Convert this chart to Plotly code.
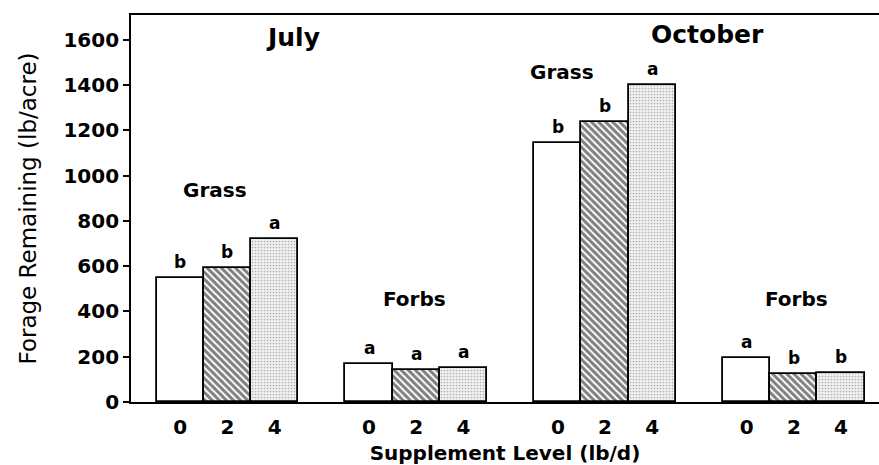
import plotly.graph_objects as go

# ---- data ----
groups = ["July Grass", "July Forbs", "October Grass", "October Forbs"]
levels = ["0", "2", "4"]
level0_values = [550, 170, 1145, 193]
level2_values = [590, 142, 1237, 123]
level4_values = [720, 150, 1402, 127]
level0_letters = ["b", "a", "b", "a"]
level2_letters = ["b", "a", "b", "b"]
level4_letters = ["a", "a", "a", "b"]
y_ticks = [0, 200, 400, 600, 800, 1000, 1200, 1400, 1600]

series_values = [level0_values, level2_values, level4_values]
series_letters = [level0_letters, level2_letters, level4_letters]

FONT = "DejaVu Sans"
bar_w = 0.25
offsets = [-0.25, 0.0, 0.25]
patterns = [
    dict(shape="", bgcolor="white"),
    dict(shape="\\", fgcolor="black", bgcolor="white", size=5, solidity=0.6),
    dict(shape=".", fgcolor="#6e6e6e", bgcolor="#f0f0f0", size=3, solidity=0.25),
]

fig = go.Figure()
gidx = list(range(len(groups)))
for k, (vals, lets) in enumerate(zip(series_values, series_letters)):
    xs = [g + offsets[k] for g in gidx]
    fig.add_trace(go.Bar(
        x=xs, y=vals, width=bar_w, name=levels[k],
        marker=dict(color="white", line=dict(color="black", width=1.8),
                    pattern=patterns[k]),
        showlegend=False, hoverinfo="skip",
    ))
    for x, v, t in zip(xs, vals, lets):
        fig.add_annotation(x=x, y=v, text=t, showarrow=False, yanchor="bottom",
                           yshift=4, font=dict(family=FONT, size=17, color="black", weight="bold"))

tickvals = [g + o for g in gidx for o in offsets]
ticktext = [lv for g in gidx for lv in levels]

labels = [
    ("July", 0.347, 1609, 25),
    ("October", 2.54, 1626, 25),
    ("Grass", -0.066, 936, 20),
    ("Grass", 1.77, 1459, 20),
    ("Forbs", 0.988, 453, 20),
    ("Forbs", 3.016, 456, 20),
]
for txt, x, y, s in labels:
    fig.add_annotation(x=x, y=y, text=txt, showarrow=False,
                       font=dict(family=FONT, size=s, color="black", weight="bold"))

fig.update_layout(
    width=879, height=465,
    margin=dict(l=131, r=0, t=15, b=60),
    paper_bgcolor="white", plot_bgcolor="white",
    bargap=0,
    font=dict(family=FONT, color="black"),
    xaxis=dict(range=[-0.511, 3.451], tickvals=tickvals, ticktext=ticktext,
               showline=True, linecolor="black", linewidth=1.8, mirror=True,
               ticks="", showgrid=False, zeroline=False,
               ticklabelstandoff=6,
               tickfont=dict(family=FONT, size=20, weight="bold"),
               title=dict(text="Supplement Level (lb/d)", standoff=12,
                          font=dict(family=FONT, size=20, weight="bold"))),
    yaxis=dict(range=[0, 1710], tickvals=y_ticks,
               showline=True, linecolor="black", linewidth=1.8,
               ticks="outside", ticklen=6, tickwidth=1.5, tickcolor="black",
               showgrid=False, zeroline=False,
               tickfont=dict(family=FONT, size=20, weight="bold"),
               title=dict(text="Forage Remaining (lb/acre)", standoff=20,
                          font=dict(family=FONT, size=23))),
)

fig.write_html("out.html", config={"displayModeBar": False},
               post_script="document.body.style.margin='0';")
